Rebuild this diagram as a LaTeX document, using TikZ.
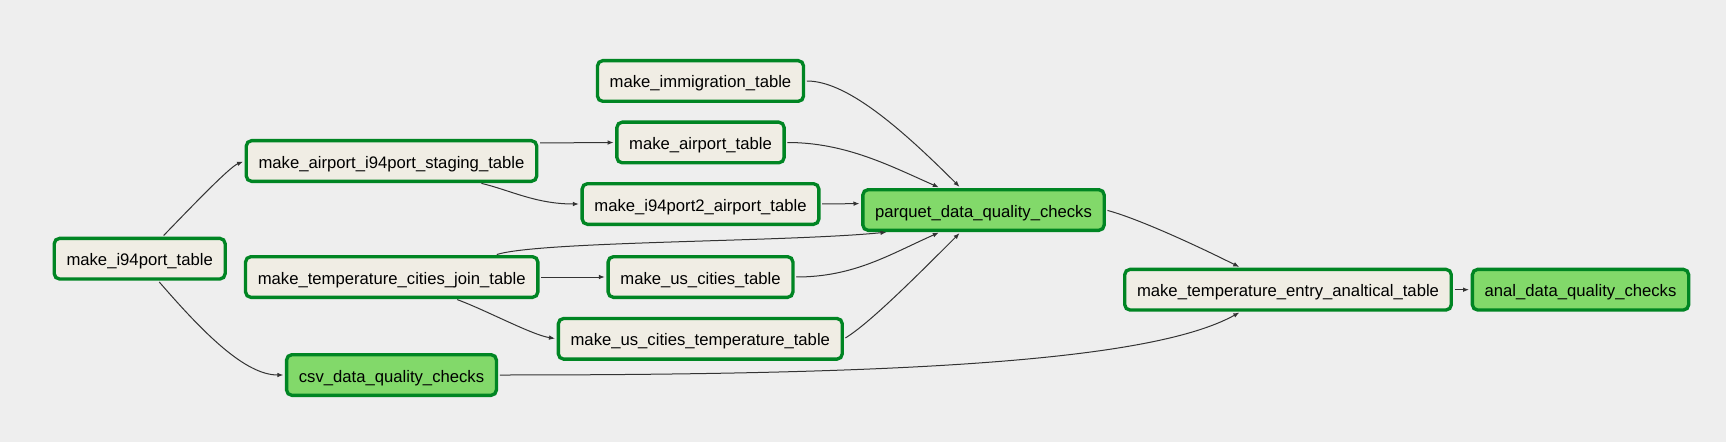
\documentclass[tikz,border=0pt]{standalone}
\usepackage{fontspec}
\setmainfont{Liberation Sans}
\usetikzlibrary{arrows.meta}
\definecolor{bgGray}{HTML}{EEEEEE}
\definecolor{taskFill}{HTML}{F0EDE4}
\definecolor{checkFill}{HTML}{82D96A}
\definecolor{runGreen}{HTML}{008523}
\definecolor{edgeGray}{HTML}{333333}

\begin{document}
\begin{tikzpicture}[x=0.75pt, y=-0.75pt,
    task/.style={draw=runGreen, fill=taskFill, line width=2.5pt, rounded corners=4pt,
        minimum height=30.5pt, inner xsep=9.2pt, text height=13pt, text depth=2.5pt,
        font=\fontsize{12.5}{15}\selectfont},
    check/.style={task, fill=checkFill},
    dep/.style={edgeGray, line width=0.75pt, shorten <=1.25pt, shorten >=1.25pt,
        -{Latex[length=4.5pt,width=3.5pt]}}]
    % Background
    \fill[bgGray] (0,0) rectangle (1726,442);

    % Tasks
    \node[task] (immig) at (700.5,81) {make\_immigration\_table};
    \node[task] (airport) at (700.5,142.5) {make\_airport\_table};
    \node[task] (staging) at (391.5,161) {make\_airport\_i94port\_staging\_table};
    \node[task] (i94port2) at (700.5,204) {make\_i94port2\_airport\_table};
    \node[task] (i94port) at (139.7,258.7) {make\_i94port\_table};
    \node[task] (tempjoin) at (391.7,277) {make\_temperature\_cities\_join\_table};
    \node[task] (uscities) at (700.5,277) {make\_us\_cities\_table};
    \node[task] (usctemp) at (700.3,338.8) {make\_us\_cities\_temperature\_table};
    \node[task] (entry) at (1288,289.7) {make\_temperature\_entry\_analtical\_table};

    % Quality checks
    \node[check] (parquet) at (983.5,210) {parquet\_data\_quality\_checks};
    \node[check] (csv) at (391.5,375) {csv\_data\_quality\_checks};
    \node[check] (anal) at (1580.5,289.7) {anal\_data\_quality\_checks};

    % From make_i94port_table
    \draw[dep] (i94port.44) .. controls +(30,-31) and +(-15,6) .. (staging.west);
    \draw[dep] (i94port.-50) .. controls +(45,52) and +(-40,0) .. (csv.west);

    % Staging and join tables
    \draw[dep] (staging.7) -- (airport.west);
    \draw[dep] (staging.-14) .. controls +(30,7) and +(-45,0) .. (i94port2.west);
    \draw[dep] (tempjoin.east) -- (uscities.west);
    \draw[dep] (tempjoin.-19) .. controls +(30,11) and +(-25,-4) .. (usctemp.west);
    \draw[dep] (tempjoin.12) .. controls +(45,-14) and +(-100,10) .. (parquet.193);

    % Into parquet checks
    \draw[dep] (immig.east) .. controls +(40,0) and +(-64,-64) .. (parquet.136);
    \draw[dep] (airport.east) .. controls +(60,0) and +(-50,-22) .. (parquet.153);
    \draw[dep] (i94port2.east) -- (parquet.177);
    \draw[dep] (uscities.east) .. controls +(60,0) and +(-50,22) .. (parquet.207);
    \draw[dep] (usctemp.east) .. controls +(25,-15) and +(-45,45) .. (parquet.224);

    % Analytical table
    \draw[dep] (parquet.east) .. controls +(30,8) and +(-50,-25) .. (entry.155);
    \draw[dep] (csv.east) .. controls +(400,0) and +(-90,50) .. (entry.205);
    \draw[dep] (entry.east) -- (anal.west);
\end{tikzpicture}
\end{document}
